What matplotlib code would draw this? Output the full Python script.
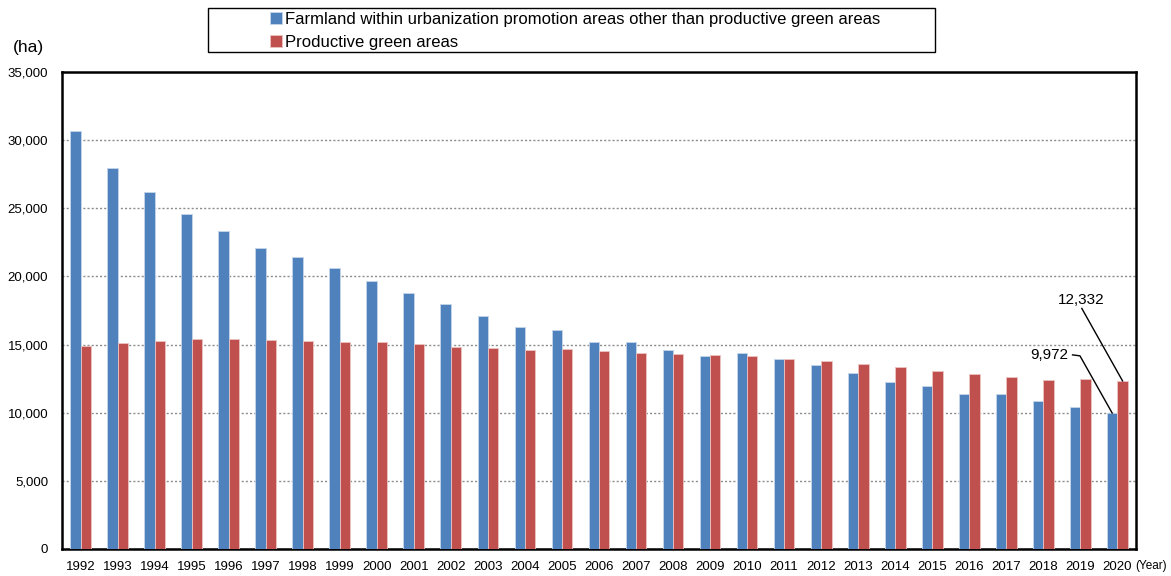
import matplotlib.pyplot as plt
from matplotlib.patches import Rectangle
import numpy as np

# --- data ---
years = [str(y) for y in range(1992, 2021)]
farmland = [30640, 27920, 26160, 24550, 23330, 22120, 21420, 20610, 19630, 18800,
            17940, 17090, 16290, 16080, 15150, 15200, 14580, 14140, 14390, 13950,
            13500, 12940, 12230, 11970, 11380, 11380, 10890, 10400, 9972]
green = [14900, 15100, 15250, 15370, 15370, 15320, 15290, 15180, 15150, 15030,
         14830, 14710, 14570, 14680, 14560, 14410, 14320, 14210, 14140, 13970,
         13770, 13580, 13360, 13090, 12840, 12600, 12400, 12470, 12332]
y_ticks = list(range(0, 35001, 5000))
labels = ["Farmland within urbanization promotion areas other than productive green areas",
          "Productive green areas"]

plt.rcParams["font.family"] = ["Liberation Sans", "DejaVu Sans"]

BLUE = "#4F81BD"
RED = "#C0504D"

fig = plt.figure(figsize=(11.71, 5.76), dpi=100)
ax = fig.add_axes([0.053, 0.047, 0.917, 0.828])

x = np.arange(len(years))
w = 0.28
b1 = ax.bar(x - w / 2, farmland, w, color=BLUE, edgecolor="#C6D6EA", linewidth=0.6, label=labels[0], zorder=3)
b2 = ax.bar(x + w / 2, green, w, color=RED, edgecolor="#EBC4C3", linewidth=0.6, label=labels[1], zorder=3)

ax.set_xlim(-0.5, len(years) - 0.5)
ax.set_ylim(0, 35000)
ax.set_yticks(y_ticks)
ax.set_yticklabels([f"{v:,}" for v in y_ticks], fontsize=9.5)
ax.set_xticks(x)
ax.set_xticklabels(years, fontsize=9.5)
ax.tick_params(axis="y", length=0, pad=10)
ax.tick_params(axis="x", length=0, pad=9)
for s in ax.spines.values():
    s.set_linewidth(1.8)
    s.set_color("black")
ax.yaxis.grid(True, linestyle=(0, (1.5, 1.5)), color="#8c8c8c", linewidth=1.0, zorder=0)
ax.set_axisbelow(True)

fig.text(0.024, 0.918, "(ha)", fontsize=12.5, ha="center", va="center")
fig.text(0.983, 0.018, "(Year)", fontsize=8.5, ha="center", va="center")

# annotations for 2020
last = len(years) - 1
ax.text(27.02, 18280, f"{green[-1]:,}", fontsize=11, ha="center", va="center")
ax.plot([27.04, last + w / 2], [17650, green[-1]], color="black", lw=1, zorder=4)
ax.text(26.15, 14240, f"{farmland[-1]:,}", fontsize=11, ha="center", va="center")
ax.plot([26.79, 26.99, last - w / 2], [14240, 14170, farmland[-1]], color="black", lw=1, zorder=4)

# legend box
fig.patches.append(Rectangle((0.1776, 0.9097), 0.6208, 0.0764, transform=fig.transFigure,
                             facecolor="white", edgecolor="black", linewidth=1.0))
fig.legend(handles=[b1, b2], loc="upper left", bbox_to_anchor=(0.2303, 0.980),
           fontsize=12, frameon=False, handlelength=0.72, handleheight=0.72,
           handletextpad=0.2, borderpad=0, labelspacing=0.5, borderaxespad=0)

fig.savefig("out.png", dpi=100)
